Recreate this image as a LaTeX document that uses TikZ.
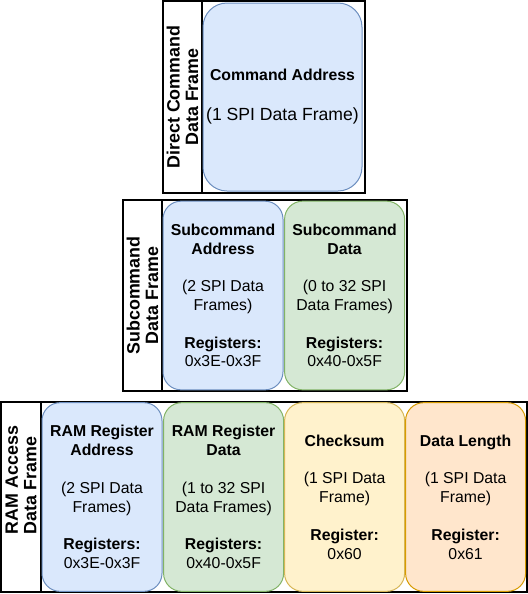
\documentclass[tikz,border=0pt]{standalone}
\usepackage{fontspec}
\setmainfont{Liberation Sans}
\usepackage{tikz}
\usetikzlibrary{positioning}
\definecolor{AddrFill}{HTML}{DAE8FC}
\definecolor{AddrLine}{HTML}{6C8EBF}
\definecolor{DataFill}{HTML}{D5E8D4}
\definecolor{DataLine}{HTML}{82B366}
\definecolor{SumFill}{HTML}{FFF2CC}
\definecolor{SumLine}{HTML}{D6B656}
\definecolor{LenFill}{HTML}{FFE6CC}
\definecolor{LenLine}{HTML}{D79B00}
\newcommand{\blankrow}{\\[14.1pt]}

\begin{document}
\begin{tikzpicture}[
    x=0.75pt, y=-0.75pt,
    outer sep=0pt,
    font=\fontsize{11.85}{14.1}\selectfont,
    frame/.style={rectangle, draw=black, line width=1.5pt, inner sep=0pt},
    lblcol/.style={rectangle, draw=black, line width=1.5pt, rotate=90, align=center, inner sep=0pt, minimum height=29.25pt, font=\fontsize{13.4}{13.8}\selectfont\bfseries},
    field/.style={rectangle, rounded corners=13.5pt, line width=0.75pt, align=center, inner sep=2pt, minimum width=90pt, minimum height=141.5pt},
    addr/.style={field, draw=AddrLine, fill=AddrFill},
    data/.style={field, draw=DataLine, fill=DataFill},
    sum/.style={field, draw=SumLine, fill=SumFill},
    len/.style={field, draw=LenLine, fill=LenFill}
]
\useasboundingbox (0,0) rectangle (528,594);

% direct command
\node[frame, minimum width=151.5pt, minimum height=144pt, anchor=north west] (dcframe) at (163,1) {};
\node[lblcol, minimum width=144pt, anchor=north] (dclbl) at (dcframe.west) {Direct Command\\Data Frame};
\node[addr, rounded corners=18pt, minimum width=119.25pt, minimum height=141pt, font=\fontsize{13.2}{15}\selectfont, right=0.75pt of dclbl.south] (cmdaddr)
    {{\fontsize{11.85}{15}\selectfont\bfseries Command Address}\\[15pt](1 SPI Data Frame)};

% subcommand
\node[frame, minimum width=213pt, minimum height=143.25pt, anchor=north west] (scframe) at (123,200) {};
\node[lblcol, minimum width=143.25pt, anchor=north] (sclbl) at (scframe.west) {Subcommand\\Data Frame};
\node[addr, right=0.75pt of sclbl.south] (scaddr)
    {\textbf{Subcommand}\\\textbf{Address}\blankrow(2 SPI Data\\Frames)\blankrow\textbf{Registers:}\\0x3E-0x3F};
\node[data, right=1.2pt of scaddr] (scdata)
    {\textbf{Subcommand}\\\textbf{Data}\blankrow(0 to 32 SPI\\Data Frames)\blankrow\textbf{Registers:}\\0x40-0x5F};

% ram access
\node[frame, minimum width=394.5pt, minimum height=142.5pt, anchor=north west] (ramframe) at (1,402) {};
\node[lblcol, align=left, minimum width=142.5pt, minimum height=30pt, anchor=north] (ramlbl) at (ramframe.west)
    {\hspace*{25.5pt}RAM Access\\\hspace*{25.5pt}Data Frame};
\node[addr, right=0.75pt of ramlbl.south] (ramaddr)
    {\textbf{RAM Register}\\\textbf{Address}\blankrow(2 SPI Data\\Frames)\blankrow\textbf{Registers:}\\0x3E-0x3F};
\node[data, right=1.2pt of ramaddr] (ramdata)
    {\textbf{RAM Register}\\\textbf{Data}\blankrow(1 to 32 SPI\\Data Frames)\blankrow\textbf{Registers:}\\0x40-0x5F};
\node[sum, right=0.75pt of ramdata] (chksum)
    {\textbf{Checksum}\blankrow(1 SPI Data\\Frame)\blankrow\textbf{Register:}\\0x60};
\node[len, right=0.75pt of chksum] (datalen)
    {\textbf{Data Length}\blankrow(1 SPI Data\\Frame)\blankrow\textbf{Register:}\\0x61};

\end{tikzpicture}
\end{document}
